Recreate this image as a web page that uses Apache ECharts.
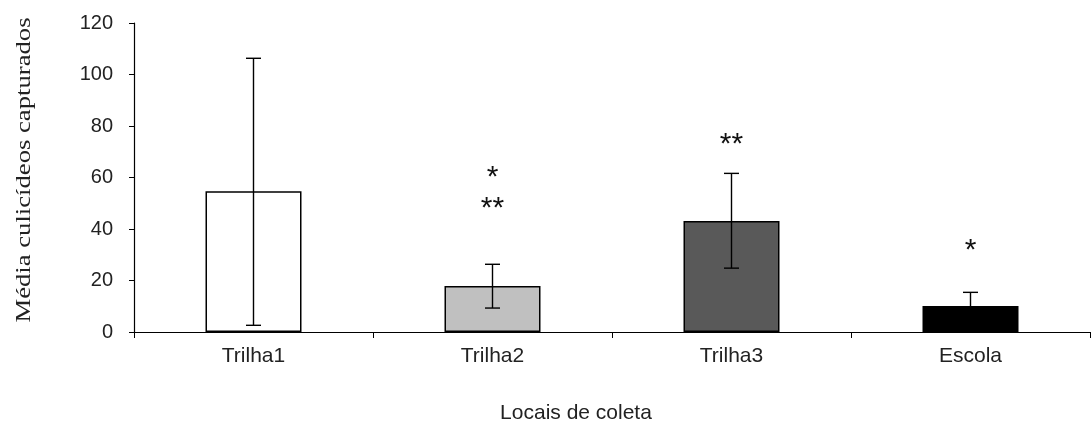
<!DOCTYPE html>
<html>
<head>
<meta charset="utf-8">
<script src="https://cdn.jsdelivr.net/npm/echarts@6/dist/echarts.min.js"></script>
<style>
  html, body { margin: 0; padding: 0; background: #fff; }
  #chart { width: 1091px; height: 427px; }
</style>
</head>
<body>
<div id="chart"></div>
<script>
// Sampling sites and mean number of captured culicids
const categories = ['Trilha1', 'Trilha2', 'Trilha3', 'Escola'];
const meanValues = [54.7, 17.9, 43.1, 10.1];
const errorLow = [2.6, 9.3, 24.8, 4.8];
const errorHigh = [106.3, 26.3, 61.6, 15.4];
const barColors = ['#ffffff', '#c0c0c0', '#595959', '#000000'];

// Significance marks (category index, height in data units, text)
const signifCategory = [1, 1, 2, 3];
const signifY = [59.8, 48.0, 72.6, 31.5];
const signifText = ['*', '**', '**', '*'];

const yTicks = { min: 0, max: 120, interval: 20 };
const yTitle = 'Média culicídeos capturados';
const xTitle = 'Locais de coleta';

const chart = echarts.init(document.getElementById('chart'), null, { renderer: 'canvas' });

const textColor = '#222';

chart.setOption({
  animation: false,
  backgroundColor: '#ffffff',
  grid: { left: 134, right: 1, top: 23, bottom: 95, outerBoundsMode: 'none', containLabel: false },
  // vertical axis title, drawn as a rotated text stretched along its length
  graphic: [
    {
      type: 'text',
      x: 24,
      y: 170,
      rotation: Math.PI / 2,
      scaleX: 1.27,
      style: {
        text: yTitle,
        fontFamily: 'Liberation Serif',
        fontSize: 21,
        fill: textColor,
        align: 'center',
        verticalAlign: 'middle'
      }
    }
  ],
  xAxis: {
    type: 'category',
    data: categories,
    name: xTitle,
    nameLocation: 'middle',
    nameGap: 71,
    nameTextStyle: {
      fontFamily: 'Liberation Sans',
      fontSize: 21,
      color: textColor,
      padding: [0, 72, 0, 0]
    },
    axisLine: { lineStyle: { color: '#000', width: 1.2 } },
    axisTick: { show: true, length: 6, lineStyle: { color: '#000', width: 1 } },
    axisLabel: { fontFamily: 'Liberation Sans', fontSize: 21, color: textColor, margin: 14 }
  },
  yAxis: {
    type: 'value',
    min: yTicks.min,
    max: yTicks.max,
    interval: yTicks.interval,
    axisLine: { show: true, lineStyle: { color: '#000', width: 1.2 } },
    axisTick: { show: true, length: 5, lineStyle: { color: '#000', width: 1 } },
    splitLine: { show: false },
    axisLabel: { fontFamily: 'Liberation Sans', fontSize: 20, color: textColor, margin: 21 }
  },
  series: [
    {
      type: 'bar',
      data: meanValues.map((v, i) => ({
        value: v,
        itemStyle: { color: barColors[i], borderColor: '#000', borderWidth: 1.5 }
      })),
      barWidth: 96,
      z: 2
    },
    {
      // error bars: vertical whisker with caps at both ends
      type: 'custom',
      z: 3,
      data: categories.map((c, i) => [i, errorLow[i], errorHigh[i]]),
      renderItem: function (params, api) {
        const x = api.coord([api.value(0), 0])[0];
        const yLo = api.coord([api.value(0), api.value(1)])[1];
        const yHi = api.coord([api.value(0), api.value(2)])[1];
        const half = 7.5;
        const style = { stroke: '#000', lineWidth: 1.4 };
        return {
          type: 'group',
          children: [
            { type: 'line', shape: { x1: x, y1: yLo, x2: x, y2: yHi }, style },
            { type: 'line', shape: { x1: x - half, y1: yHi, x2: x + half, y2: yHi }, style },
            { type: 'line', shape: { x1: x - half, y1: yLo, x2: x + half, y2: yLo }, style }
          ]
        };
      }
    },
    {
      // significance asterisks above the bars
      type: 'custom',
      z: 4,
      data: signifCategory.map((c, i) => [c, signifY[i]]),
      renderItem: function (params, api) {
        const p = api.coord([api.value(0), api.value(1)]);
        return {
          type: 'text',
          x: p[0],
          y: p[1],
          style: {
            text: signifText[params.dataIndex],
            fontFamily: 'Liberation Sans',
            fontSize: 30,
            fill: '#111',
            align: 'center',
            verticalAlign: 'middle'
          }
        };
      }
    }
  ]
});
</script>
</body>
</html>
